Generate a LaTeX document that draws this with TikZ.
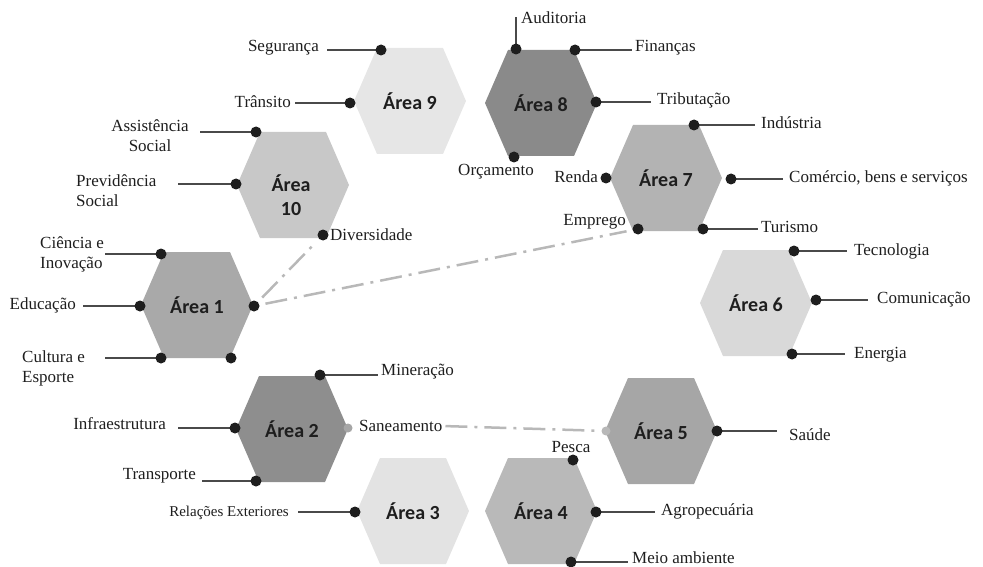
\documentclass[tikz,border=0pt]{standalone}
\usepackage{fontspec}
\setmainfont{Liberation Serif}
\newfontfamily\areafont{Carlito}
\definecolor{txt}{HTML}{1E1E1E}
\definecolor{lne}{HTML}{4A4A4A}
\definecolor{dsh}{HTML}{B8B8B8}
\definecolor{h9}{HTML}{E6E6E6}
\definecolor{h8}{HTML}{8A8A8A}
\definecolor{h10}{HTML}{C8C8C8}
\definecolor{h7}{HTML}{B3B3B3}
\definecolor{h1}{HTML}{A9A9A9}
\definecolor{h6}{HTML}{D9D9D9}
\definecolor{h2}{HTML}{8E8E8E}
\definecolor{h3}{HTML}{E3E3E3}
\definecolor{h4}{HTML}{B9B9B9}
\definecolor{h5}{HTML}{A6A6A6}
\tikzset{
  dot/.style={circle, fill=txt, inner sep=0pt, minimum size=11pt},
  conn/.style={draw=lne, line width=2pt},
  dashdot/.style={draw=dsh, line width=2.5pt, dash pattern=on 22pt off 7pt on 3pt off 7pt},
  lbl/.style={inner sep=0pt, text=txt, font=\fontsize{17}{20}\selectfont},
  smalllbl/.style={inner sep=0pt, text=txt, font=\fontsize{15}{18}\selectfont},
  area/.style={inner sep=0pt, text=txt, font=\areafont\bfseries\fontsize{20}{24}\selectfont, align=center}
}
\newcommand\hexa[5]{%
  \fill[#4] (#2-56,#3) -- (#2-33,#3-53) -- (#2+33,#3-53) -- (#2+56,#3) -- (#2+33,#3+53) -- (#2-33,#3+53) -- cycle;
  \node[area] (#1) at (#2,#3) {#5};}
\newcommand\leaf[4]{%
  \coordinate (#1c) at (#2,#3);
  \coordinate (#1e) at (#4,#3);
  \draw[conn] (#1c) -- (#1e);
  \node[dot] (#1) at (#1c) {};}
\begin{document}
\begin{tikzpicture}[x=1pt,y=-1pt]
\useasboundingbox (0,0) rectangle (983,567);
% hexagons
\hexa{a9}{410}{101}{h9}{Área 9}
\hexa{a8}{541}{103}{h8}{Área 8}
\hexa{a7}{666}{178}{h7}{Área 7}
\hexa{a6}{756}{303}{h6}{Área 6}
\hexa{a1}{197}{305}{h1}{Área 1}
\hexa{a2}{292}{429}{h2}{Área 2}
\hexa{a3}{413}{511}{h3}{Área 3}
\hexa{a4}{541}{511}{h4}{Área 4}
\hexa{a5}{661}{431}{h5}{Área 5}
\fill[h10] (293-56,185) -- (293-33,185-53) -- (293+33,185-53) -- (293+56,185) -- (293+33,185+53) -- (293-33,185+53) -- cycle;
\node[area] (a10) at (291,195) {Área\\10};
% dots without lines
\node[dot] (div) at (323,235) {};
\node[dot] (a1r) at (231,358) {};
\node[dot] (a1e) at (254,306) {};
\node[dot] (orc) at (514,157) {};
\node[dot] (ren) at (606,178) {};
\node[dot] (emp) at (638,229) {};
\node[dot] (pes) at (573,460) {};
\node[circle, fill=gray!70, inner sep=0pt, minimum size=9pt] (san) at (348,428) {};
\node[circle, fill=dsh, inner sep=0pt, minimum size=9pt] (a5l) at (606,431) {};
% leaves
\leaf{seg}{381}{50}{327}
\leaf{tra}{350}{103}{295}
\leaf{ass}{256}{132}{200}
\leaf{pre}{236}{184}{178}
\leaf{cie}{161}{254}{105}
\leaf{edu}{140}{306}{83}
\leaf{cul}{161}{358}{105}
\leaf{fin}{575}{50}{632}
\leaf{trib}{596}{102}{651}
\leaf{ind}{694}{125}{755}
\leaf{com}{731}{179}{783}
\leaf{tur}{703}{229}{758}
\leaf{tec}{794}{251}{847}
\leaf{cmn}{816}{300}{868}
\leaf{ene}{792}{354}{845}
\leaf{min}{320}{375}{378}
\leaf{inf}{235}{428}{178}
\leaf{trn}{256}{481}{202}
\leaf{rel}{355}{512}{298}
\leaf{agr}{596}{512}{655}
\leaf{mei}{571}{562}{628}
\leaf{sau}{717}{431}{777}
% Auditoria (vertical)
\coordinate (aude) at (516,17);
\draw[conn] (516,49) -- (aude);
\node[dot] (aud) at (516,49) {};
% labels
\node[lbl, anchor=east] (t_seg) at (319,48) {Segurança};
\node[lbl, anchor=east] (t_tra) at (291,102) {Trânsito};
\node[lbl, align=center] (t_ass) at (150,136) {Assistência\\Social};
\node[lbl, align=left, anchor=west] (t_pre) at (76,191) {Previdência\\Social};
\node[lbl, anchor=west] (t_div) at (330,235) {Diversidade};
\node[lbl, align=left, anchor=west] (t_cie) at (40,254) {Ciência e\\Inovação};
\node[lbl, anchor=east] (t_edu) at (76,305) {Educação};
\node[lbl, align=left, anchor=west] (t_cul) at (22,368) {Cultura e\\Esporte};
\node[lbl, anchor=west] (t_aud) at (521,18) {Auditoria};
\node[lbl, anchor=west] (t_fin) at (635,48) {Finanças};
\node[lbl, anchor=west] (t_trib) at (657,100) {Tributação};
\node[lbl] (t_orc) at (496,172) {Orçamento};
\node[lbl, anchor=west] (t_ind) at (761,123) {Indústria};
\node[lbl, anchor=east] (t_ren) at (598,177) {Renda};
\node[lbl, anchor=west] (t_com) at (789,178) {Comércio, bens e serviços};
\node[lbl, anchor=east] (t_emp) at (626,222) {Emprego};
\node[lbl, anchor=west] (t_tur) at (761,227) {Turismo};
\node[lbl, anchor=west] (t_tec) at (854,251) {Tecnologia};
\node[lbl, anchor=west] (t_cmn) at (877,300) {Comunicação};
\node[lbl, anchor=west] (t_ene) at (854,355) {Energia};
\node[lbl, anchor=west] (t_min) at (381,372) {Mineração};
\node[lbl, anchor=east] (t_inf) at (166,424) {Infraestrutura};
\node[lbl, anchor=west] (t_san) at (359,426) {Saneamento};
\node[lbl, anchor=east] (t_trn) at (196,476) {Transporte};
\node[smalllbl, anchor=east] (t_rel) at (289,513) {Relações Exteriores};
\node[lbl] (t_pes) at (571,447) {Pesca};
\node[lbl, anchor=west] (t_agr) at (661,511) {Agropecuária};
\node[lbl, anchor=west] (t_mei) at (632,558) {Meio ambiente};
\node[lbl, anchor=west] (t_sau) at (789,435) {Saúde};
% dash-dot connectors
\begin{scope}[on background layer/.style={}]
\draw[dashdot, shorten <=6pt, shorten >=6pt] (a1e) -- (div);
\draw[dashdot, shorten <=6pt, shorten >=6pt] (a1e) -- (emp);
\draw[dashdot, shorten <=3pt, shorten >=4pt] (t_san.east) -- (a5l);
\end{scope}
\end{tikzpicture}
\end{document}
